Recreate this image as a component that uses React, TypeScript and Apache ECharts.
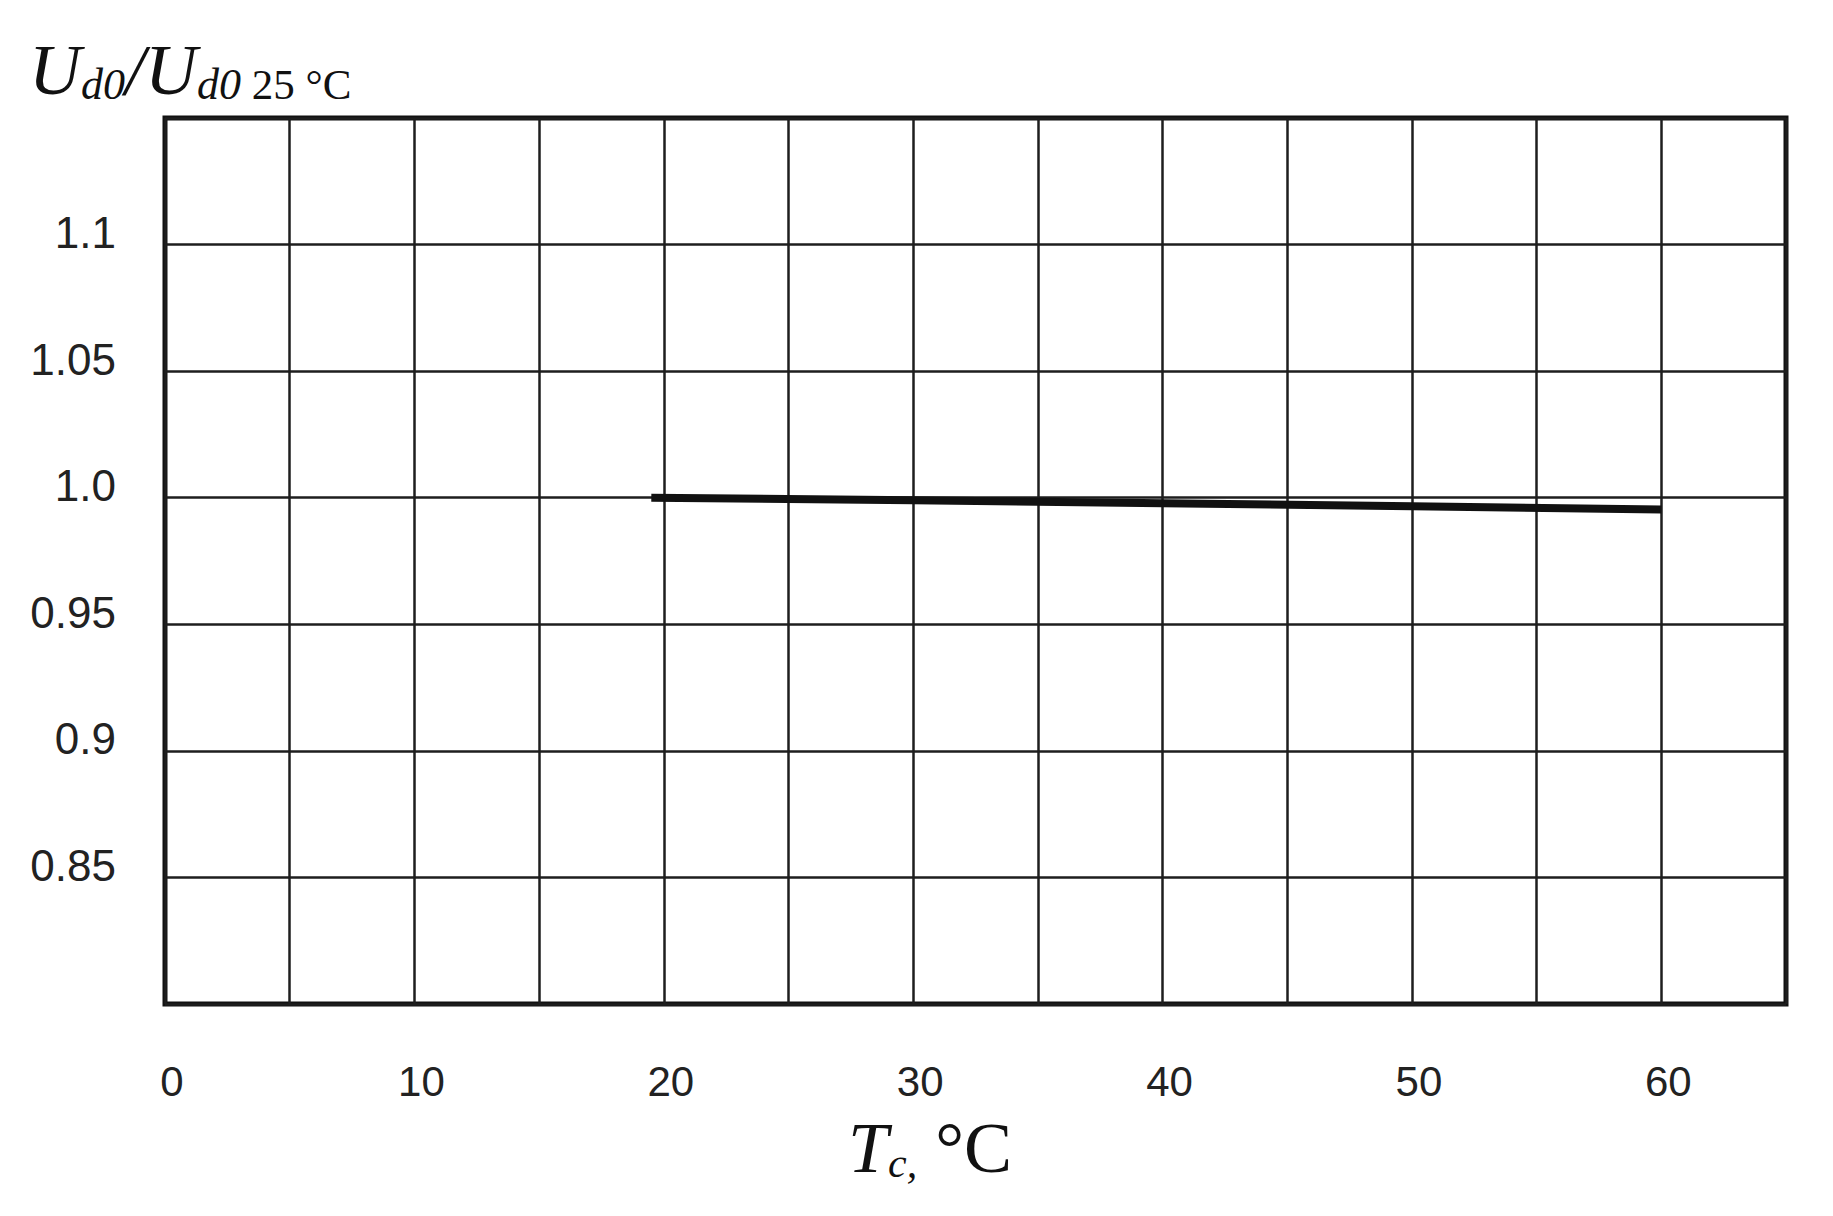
import React, { useEffect, useRef } from "react";
import * as echarts from "echarts";

// Data
const tempC: number[] = [19.5, 30, 40, 50, 60];
const ratio: number[] = [1.0, 0.999, 0.9978, 0.9966, 0.9953];

const xTickValues: number[] = [0, 10, 20, 30, 40, 50, 60];
const yTickLabels: string[] = ["0.85", "0.9", "0.95", "1.0", "1.05", "1.1"];

const X_MIN = 0;
const X_MAX = 65;
const X_STEP = 5;
const Y_MIN = 0.8;
const Y_MAX = 1.15;
const Y_STEP = 0.05;

function fmtY(v: number): string {
  const s = Math.round(v * 100) / 100;
  let str = String(s);
  if (!str.includes(".")) str += ".0";
  return yTickLabels.includes(str) ? str : "";
}

export default function App() {
  const ref = useRef<HTMLDivElement | null>(null);

  useEffect(() => {
    document.body.style.margin = "0";
    if (!ref.current) return;
    const chart = echarts.init(ref.current, null, { renderer: "svg" });
    const serif = "'Liberation Serif', 'Times New Roman', serif";
    const sans = "'Liberation Sans', Arial, sans-serif";

    chart.setOption({
      animation: false,
      backgroundColor: "#ffffff",
      grid: {
        left: 165,
        top: 118,
        width: 1621,
        height: 886,
        show: true,
        borderColor: "#111111",
        borderWidth: 5,
        backgroundColor: "#ffffff",
      },
      xAxis: {
        type: "value",
        min: X_MIN,
        max: X_MAX,
        interval: X_STEP,
        axisLine: { show: false },
        axisTick: { show: false },
        splitLine: { show: true, lineStyle: { color: "#1e1e1e", width: 2.5 } },
        axisLabel: {
          margin: 56,
          fontFamily: sans,
          fontSize: 42,
          color: "#222222",
          padding: [0, 0, 0, 14],
          showMinLabel: true,
          showMaxLabel: true,
          formatter: (v: number) => (xTickValues.includes(Math.round(v)) ? String(Math.round(v)) : ""),
        },
      },
      yAxis: {
        type: "value",
        min: Y_MIN,
        max: Y_MAX,
        interval: Y_STEP,
        axisLine: { show: false },
        axisTick: { show: false },
        splitLine: { show: true, lineStyle: { color: "#1e1e1e", width: 2.5 } },
        axisLabel: {
          margin: 49,
          fontFamily: sans,
          fontSize: 44,
          color: "#222222",
          verticalAlign: "bottom",
          lineHeight: 24,
          showMinLabel: true,
          showMaxLabel: true,
          formatter: (v: number) => fmtY(v),
        },
      },
      series: [
        {
          type: "line",
          data: tempC.map((t, i) => [t, ratio[i]]),
          showSymbol: false,
          symbol: "none",
          lineStyle: { color: "#111111", width: 8, cap: "butt" },
          z: 5,
        },
      ],
      graphic: [
        {
          type: "text",
          left: 29,
          top: 34,
          style: {
            text: "{U|U}{s|d0}{U|/U}{s|d0}{n| 25 °C}",
            fill: "#111111",
            rich: {
              U: { fontFamily: serif, fontStyle: "italic", fontSize: 72, lineHeight: 72, verticalAlign: "bottom", fill: "#111111" },
              s: { fontFamily: serif, fontStyle: "italic", fontSize: 44, lineHeight: 50, verticalAlign: "bottom", fill: "#111111" },
              n: { fontFamily: serif, fontSize: 43, lineHeight: 49, verticalAlign: "bottom", fill: "#111111" },
            },
          },
        },
        {
          type: "text",
          left: 848,
          top: 1112,
          style: {
            text: "{T|T}{s|c,}{n| °C}",
            fill: "#111111",
            rich: {
              T: { fontFamily: serif, fontStyle: "italic", fontSize: 72, lineHeight: 72, verticalAlign: "bottom", fill: "#111111" },
              s: { fontFamily: serif, fontStyle: "italic", fontSize: 42, lineHeight: 42, verticalAlign: "bottom", fill: "#111111" },
              n: { fontFamily: serif, fontSize: 72, lineHeight: 72, verticalAlign: "bottom", fill: "#111111" },
            },
          },
        },
      ],
    });

    return () => chart.dispose();
  }, []);

  return <div ref={ref} style={{ width: 1833, height: 1216 }} />;
}
